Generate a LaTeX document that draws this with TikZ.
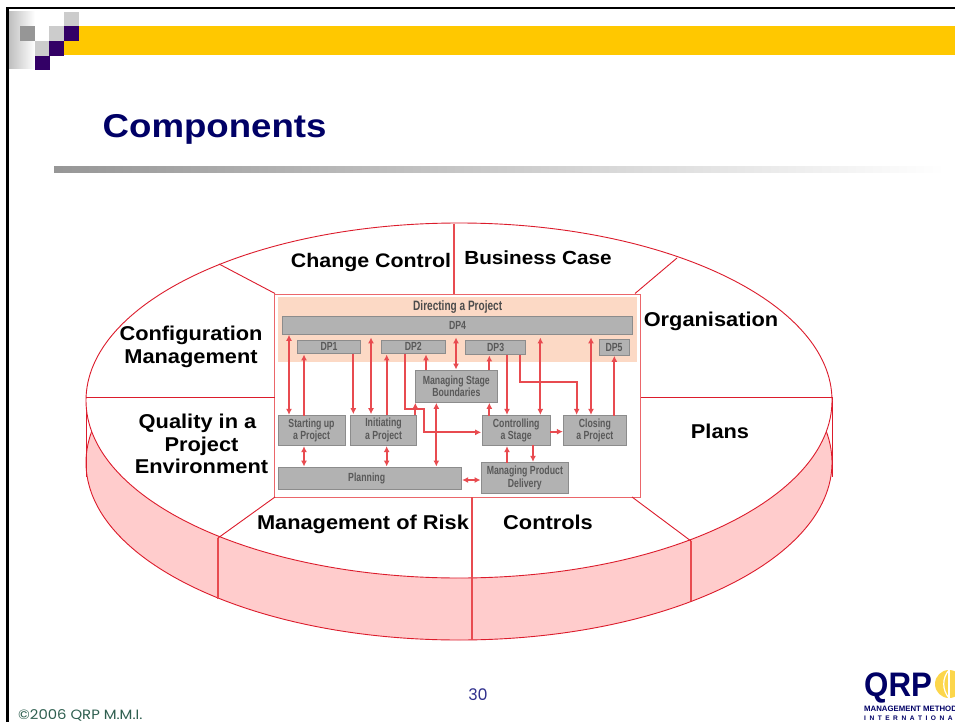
\documentclass[tikz,border=0pt]{standalone}
\usepackage{fontspec}
\usetikzlibrary{arrows.meta}
\setmainfont{Liberation Sans}
\newfontfamily\nrw[FakeStretch=0.74]{Liberation Sans}
\newfontfamily\wideb[FakeStretch=1.11]{Liberation Sans}
\newfontfamily\labf[FakeStretch=1.09]{Liberation Sans}
\newfontfamily\logof[FakeStretch=0.92]{Liberation Sans}
\newfontfamily\footf{Poppins}
\newfontfamily\footw[FakeStretch=1.1]{Poppins}
\definecolor{gold}{HTML}{FFC800}
\definecolor{purp}{HTML}{330066}
\definecolor{navyt}{HTML}{000066}
\definecolor{lredline}{HTML}{DC1C2C}
\definecolor{pinkside}{HTML}{FFCCCC}
\definecolor{arrred}{HTML}{E84B50}
\definecolor{greenf}{HTML}{2F5F50}
\definecolor{pagen}{HTML}{2E2E8C}
\definecolor{bandp}{HTML}{FCD9C5}
\tikzset{
  lab/.style={font=\labf\fontsize{20}{22.3}\selectfont\bfseries,align=center,text=black,inner sep=0pt},
  rimline/.style={draw=lredline,line width=0.9pt},
  sideline/.style={draw=arrred,line width=1.3pt},
  boxn/.style={draw=black!45,fill=black!30,line width=0.7pt,inner sep=0pt,outer sep=0pt,
     font=\nrw\fontsize{11.8}{12.6}\selectfont\bfseries,text=black!65,align=center},
  arr/.style={draw=arrred,line width=1.9pt,{Latex[length=6pt,width=6pt]}-{Latex[length=6pt,width=6pt]},shorten >=0.8pt,shorten <=0.8pt},
  arre/.style={draw=arrred,line width=1.9pt,-{Latex[length=6pt,width=6pt]},shorten >=0.8pt},
}
\newcommand\bx[6]{\pgfmathsetmacro\bw{(#4-#2)/3}\pgfmathsetmacro\bh{(#5-#3)/3}%
  \node[boxn,minimum width=\bw pt,minimum height=\bh pt] (#1) at ({(#2+#4)/2},{(#3+#5)/2}) {#6};}
\begin{document}
\begin{tikzpicture}[x=1pt,y=-1pt]
\clip (0,0) rectangle (955,722);
\fill[white] (0,0) rectangle (955,722);
% slide frame
\fill[black] (6,7) rectangle (955,9.5);
\fill[black] (6,7) rectangle (8.5,722);
\shade[left color=black!25,right color=white] (9,12) rectangle (35,69);
\fill[gold] (64,26) rectangle (955,55);
\fill[black!41] (20,26) rectangle (35,41);
\fill[black!20] (35,41) rectangle (50,56);
\fill[black!20] (49,26) rectangle (64,41);
\fill[black!20] (64,12) rectangle (79,26);
\fill[purp] (64,26) rectangle (79,41);
\fill[purp] (49,41) rectangle (64,56);
\fill[purp] (35,56) rectangle (50,70);
\node[anchor=base west,inner sep=0,text=navyt,font=\wideb\fontsize{33}{36}\selectfont\bfseries] (title) at (102.5,137.5) {Components};
\shade[left color=black!41,right color=white] (54,167) rectangle (945,173);
% disc
\path[fill=pinkside,rimline] (459,462.5) ellipse [x radius=373,y radius=177.5];
\draw[rimline] (86,397) -- (86,477);
\draw[rimline] (832,397) -- (832,477);
\path[fill=white,rimline] (459,400.5) ellipse [x radius=373,y radius=177.5];
\coordinate (tv) at (454,223.5);
\coordinate (tl) at (219,264);
\coordinate (tr) at (677,258);
\coordinate (ml) at (86,397);
\coordinate (mr) at (832,397);
\coordinate (bl) at (218,538);
\coordinate (bm) at (472,578);
\coordinate (br) at (691,541);
\coordinate (sl) at (218,598.5);
\coordinate (sm) at (472,640);
\coordinate (sr) at (691,601);
\draw[sideline] (bl) -- (sl);
\draw[sideline] (bm) -- (sm);
\draw[sideline] (br) -- (sr);
% inset
\node[draw=arrred!85,fill=white,line width=0.9pt,inner sep=0,outer sep=0,minimum width=366pt,minimum height=203pt] (inset) at (457.8,395.5) {};
\draw[sideline] (tv) -- (454,0 |- inset.north);
\draw[rimline] (tl) -- (275,293.5);
\draw[rimline] (tr) -- (635,293.5);
\draw[rimline] (ml) -- (ml -| inset.west);
\draw[rimline] (mr) -- (mr -| inset.east);
\draw[rimline] (bl) -- (275,497);
\draw[sideline] (bm) -- (bm |- inset.south);
\draw[rimline] (br) -- (632,497);
\begin{scope}[shift={(270,290)},x=0.33333pt,y=-0.33333pt]
\fill[bandp] (25,22) rectangle (1100,217);
\node[font=\nrw\fontsize{13.6}{14}\selectfont\bfseries,text=black!70,inner sep=0] (dap) at (563,50) {Directing a Project};
\bx{dpiv}{38}{80}{1087}{132}{DP4}
\bx{dpi}{82}{150}{272}{191}{DP1}
\bx{dpii}{333}{150}{527}{191}{DP2}
\bx{dpiii}{587}{150}{767}{194}{DP3}
\bx{dpv}{987}{148}{1077}{195}{DP5}
\bx{msb}{435}{241}{683}{336}{Managing Stage\\Boundaries}
\bx{sup}{24}{377}{225}{466}{Starting up\\a Project}
\bx{ip}{241}{375}{440}{466}{Initiating\\a Project}
\bx{cs}{636}{377}{841}{466}{Controlling\\a Stage}
\bx{cp}{881}{377}{1068}{466}{Closing\\a Project}
\bx{pl}{24}{532}{574}{597}{Planning\hspace*{6pt}}
\bx{mpd}{634}{518}{895}{610}{Managing Product\\Delivery}
% arrows
\draw[arr] (57,0 |- dpiv.south) -- (57,0 |- sup.north);
\draw[arre] (102,0 |- sup.north) -- (102,0 |- dpi.south);
\draw[arre] (250,0 |- dpi.south) -- (250,0 |- ip.north);
\draw[arr] (303,140) -- (303,0 |- ip.north);
\draw[arre] (350,0 |- ip.north) -- (350,0 |- dpii.south);
\draw[arre] (406,0 |- dpii.south) -- (406,357) -- (463,357) -- (463,427) -- (cs.west |- 0,427);
\draw[arre] (436,0 |- ip.north) -- (436,0 |- msb.south);
\draw[arre] (468,0 |- msb.north) -- (468,0 |- dpii.south);
\draw[arr] (558,140) -- (558,0 |- msb.north);
\draw[arre] (658,0 |- msb.north) -- (658,0 |- dpiii.south);
\draw[arre] (711,0 |- dpiii.south) -- (711,0 |- cs.north);
\draw[arre] (750,0 |- dpiii.south) -- (750,275) -- (920,275) -- (920,0 |- cp.north);
\draw[arr] (811,140) -- (811,0 |- cs.north);
\draw[arr] (963,140) -- (963,0 |- cp.north);
\draw[arre] (1033,0 |- cp.north) -- (1033,0 |- dpv.south);
\draw[arre] (658,0 |- cs.north) -- (658,0 |- msb.south);
\draw[arre] (cs.east |- 0,425) -- (cp.west |- 0,425);
\draw[arr] (499,0 |- msb.south) -- (499,0 |- pl.north);
\draw[arr] (102,0 |- sup.south) -- (102,0 |- pl.north);
\draw[arr] (350,0 |- ip.south) -- (350,0 |- pl.north);
\draw[arre] (711,0 |- mpd.north) -- (711,0 |- cs.south);
\draw[arre] (789,0 |- cs.south) -- (789,0 |- mpd.north);
\draw[arr] (pl.east |- 0,570) -- (mpd.west |- 0,570);
\end{scope}
% labels
\node[lab,font=\labf\fontsize{19.6}{22}\selectfont\bfseries] (l1) at (371,262) {Change Control};
\node[lab,font=\labf\fontsize{19}{22}\selectfont\bfseries] (l2) at (538,258) {Business Case};
\node[lab] (l3) at (711,321) {Organisation};
\node[lab] (l4) at (191,347) {Configuration\\Management};
\node[lab] (l5) at (201.5,444) {Quality in a\hspace*{8pt}\\Project\\Environment};
\node[lab] (l6) at (720,431) {Plans};
\node[lab] (l7) at (363,524) {Management of Risk};
\node[lab] (l8) at (548,522) {Controls};
% footer
\node[text=pagen,font=\footf\fontsize{16}{18}\selectfont,inner sep=0] (pg) at (478,694.5) {30};
\node[anchor=base west,text=greenf,font=\footw\fontsize{13.5}{15}\selectfont,inner sep=0] (cr) at (18,719.5) {©2006 QRP M.M.I.};
% logo
\fill[yellow!60!orange!70] (949,684) circle [radius=14];
\draw[white,line width=1.2pt] (949,670) .. controls (942,678) and (942,690) .. (949,698);
\draw[white,line width=1.2pt] (949,670) -- (949,698);
\node[anchor=base west,inner sep=0,text=navyt,font=\logof\fontsize{34}{36}\selectfont\bfseries] (qrp) at (864,696) {QRP};
\node[anchor=base west,inner sep=0,text=navyt,font=\fontsize{7.8}{8}\selectfont\bfseries] (mm) at (864,711) {MANAGEMENT METHODS};
\node[anchor=base west,inner sep=0,text=navyt,font=\fontsize{6.6}{7}\selectfont\bfseries] (intl) at (864,720) {I\hspace{3.5pt}N\hspace{3.5pt}T\hspace{3.5pt}E\hspace{3.5pt}R\hspace{3.5pt}N\hspace{3.5pt}A\hspace{3.5pt}T\hspace{3.5pt}I\hspace{3.5pt}O\hspace{3.5pt}N\hspace{3.5pt}A\hspace{3.5pt}L};
\end{tikzpicture}
\end{document}
